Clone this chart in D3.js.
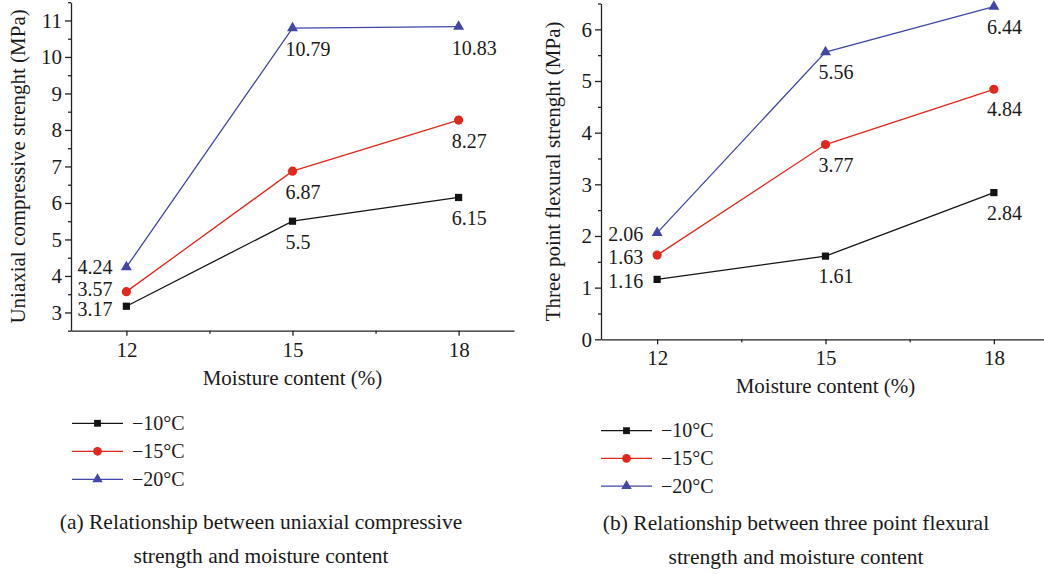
<!DOCTYPE html>
<html>
<head>
<meta charset="utf-8">
<script src="https://cdn.jsdelivr.net/npm/d3@7"></script>
<style>
  body { margin: 0; background: #fff; }
  text { font-family: "Liberation Serif", "DejaVu Serif", serif; fill: #1a1a1a; }
</style>
</head>
<body>
<div id="chart"></div>
<script>
// data
var moisture = [12, 15, 18];
var seriesNames = ["\u221210\u00b0C", "\u221215\u00b0C", "\u221220\u00b0C"];
var ucs10 = [3.17, 5.5, 6.15];
var ucs15 = [3.57, 6.87, 8.27];
var ucs20 = [4.24, 10.79, 10.83];
var flex10 = [1.16, 1.61, 2.84];
var flex15 = [1.63, 3.77, 4.84];
var flex20 = [2.06, 5.56, 6.44];
var ucsTicks = [3, 4, 5, 6, 7, 8, 9, 10, 11];
var flexTicks = [0, 1, 2, 3, 4, 5, 6];
var xTicks = [12, 15, 18];
var xMinor = [13.5, 16.5];

var colors = ["#141414", "#e0281c", "#4047a6"];
var symbols = [d3.symbolSquare, d3.symbolCircle, d3.symbolTriangle];
var symSize = [52, 66, 52];

var svg = d3.select("#chart").append("svg")
    .attr("width", 1044).attr("height", 574);
svg.append("rect").attr("width", 1044).attr("height", 574).attr("fill", "#fff");

// push the labels at the first x value apart so they don't collide
function spreadLabels(ys, gap) {
    var idx = ys.map(function (d, i) { return i; }).sort(function (a, b) { return ys[b] - ys[a]; });
    var out = ys.slice();
    for (var it = 0; it < 10; it++) {
        for (var j = 1; j < idx.length; j++) {
            var lo = idx[j - 1], hi = idx[j];
            var d = out[lo] - out[hi];
            if (d < gap) {
                var m = (gap - d) / 2;
                out[lo] += m;
                out[hi] -= m;
            }
        }
    }
    return out;
}

function drawPanel(cfg) {
    var g = svg.append("g");
    var x = d3.scaleLinear().domain([11, 19]).range([cfg.x0, cfg.x1]);
    var y = d3.scaleLinear().domain(cfg.yDomain).range([cfg.y0, cfg.y1]);

    // minor ticks
    var yMinor = [];
    for (var v = cfg.yDomain[0]; v <= cfg.yDomain[1] + 1e-9; v += 0.5) {
        if (Math.abs(v - Math.round(v)) > 0.01) yMinor.push(v);
    }
    g.append("g").attr("transform", "translate(" + cfg.x0 + ",0)")
        .call(d3.axisLeft(y).tickValues(yMinor).tickSize(3).tickFormat(""))
        .call(function (s) { s.select(".domain").remove(); });
    g.append("g").attr("transform", "translate(0," + cfg.y0 + ")")
        .call(d3.axisBottom(x).tickValues(xMinor).tickSize(3).tickFormat(""))
        .call(function (s) { s.select(".domain").remove(); });

    var ya = g.append("g").attr("transform", "translate(" + cfg.x0 + ",0)")
        .call(d3.axisLeft(y).tickValues(cfg.yTicks).tickSize(6).tickSizeOuter(0).tickPadding(3).tickFormat(d3.format("d")));
    var xa = g.append("g").attr("transform", "translate(0," + cfg.y0 + ")")
        .call(d3.axisBottom(x).tickValues(xTicks).tickSize(5).tickSizeOuter(0).tickPadding(6).tickFormat(d3.format("d")));
    g.selectAll(".tick line, .domain").attr("stroke", "#222").attr("stroke-width", 1.3);
    ya.selectAll("text").style("font-size", "21px").attr("fill", "#1a1a1a").attr("font-family", null);
    xa.selectAll("text").style("font-size", "21px").attr("fill", "#1a1a1a").attr("font-family", null);

    g.append("text")
        .attr("x", (cfg.x0 + Math.min(cfg.x1, 1044)) / 2 + (cfg.x1 > 1044 ? 3 : 0))
        .attr("y", cfg.xTitleY)
        .attr("text-anchor", "middle")
        .style("font-size", "21px")
        .text("Moisture content (%)");
    g.append("text")
        .attr("transform", "translate(" + cfg.yTitleX + "," + ((cfg.y0 + cfg.y1) / 2) + ") rotate(-90)")
        .attr("text-anchor", "middle")
        .style("font-size", "21px")
        .text(cfg.yTitle);

    var line = d3.line()
        .x(function (d, i) { return x(moisture[i]); })
        .y(function (d) { return y(d); });

    var firstYs = spreadLabels(cfg.series.map(function (s) { return y(s[0]) + cfg.firstDy; }), 20);

    cfg.series.forEach(function (vals, k) {
        g.append("path").datum(vals)
            .attr("d", line)
            .attr("fill", "none")
            .attr("stroke", colors[k])
            .attr("stroke-width", 1.3);
        g.selectAll(".pt" + k).data(vals).enter().append("path")
            .attr("transform", function (d, i) { return "translate(" + x(moisture[i]) + "," + y(d) + ")"; })
            .attr("d", d3.symbol().type(symbols[k]).size(symSize[k]))
            .attr("fill", colors[k]);
        g.selectAll(".lb" + k).data(vals).enter().append("text")
            .attr("x", function (d, i) { return i == 0 ? x(moisture[i]) - 14 : x(moisture[i]) - 7; })
            .attr("y", function (d, i) { return i == 0 ? firstYs[k] : y(d) + cfg.labelDy; })
            .attr("text-anchor", function (d, i) { return i == 0 ? "end" : "start"; })
            .style("font-size", "20px")
            .text(function (d) { return String(d); });
    });

    // legend
    var lg = g.append("g");
    seriesNames.forEach(function (name, k) {
        var ly = cfg.legendY + k * cfg.legendStep;
        lg.append("line")
            .attr("x1", cfg.legendX).attr("x2", cfg.legendX + 51)
            .attr("y1", ly).attr("y2", ly)
            .attr("stroke", colors[k]).attr("stroke-width", 1.3);
        lg.append("path")
            .attr("transform", "translate(" + (cfg.legendX + 25.5) + "," + ly + ")")
            .attr("d", d3.symbol().type(symbols[k]).size(symSize[k] * 0.9))
            .attr("fill", colors[k]);
        lg.append("text")
            .attr("x", cfg.legendX + 60).attr("y", ly + 6.5)
            .style("font-size", "20px")
            .text(name);
    });

    cfg.caption.forEach(function (t, i) {
        g.append("text")
            .attr("x", cfg.captionX)
            .attr("y", cfg.captionY + i * 34)
            .attr("text-anchor", "middle")
            .style("font-size", "21.5px")
            .text(t);
    });
}

drawPanel({
    x0: 71, x1: 514, y0: 330.7, y1: 2.2,
    yDomain: [2.5, 11.5], yTicks: ucsTicks,
    series: [ucs10, ucs15, ucs20],
    labelDy: 28, firstDy: 7,
    xTitleY: 385, yTitleX: 25,
    yTitle: "Uniaxial compressive strenght (MPa)",
    legendX: 72, legendY: 423.3, legendStep: 28,
    caption: ["(a) Relationship between uniaxial compressive", "strength and moisture content"],
    captionX: 261, captionY: 529
});

drawPanel({
    x0: 601, x1: 1050, y0: 339.3, y1: 3.5,
    yDomain: [0, 6.5], yTicks: flexTicks,
    series: [flex10, flex15, flex20],
    labelDy: 27, firstDy: 8.5,
    xTitleY: 393, yTitleX: 560,
    yTitle: "Three point flexural strenght (MPa)",
    legendX: 601, legendY: 430.7, legendStep: 27.7,
    caption: ["(b) Relationship between three point flexural", "strength and moisture content"],
    captionX: 796, captionY: 530
});
</script>
</body>
</html>
